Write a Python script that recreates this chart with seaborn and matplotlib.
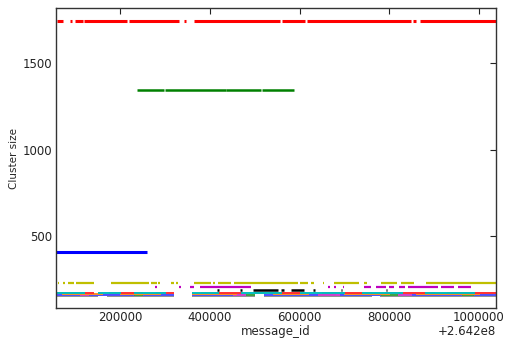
import seaborn as sns
import matplotlib.pyplot as plt
import numpy as np
import pandas as pd

# message_id runs (in thousands, relative to the 2.642e8 offset) for each cluster
OFFSET = 264200000

red_size = 1740
red_runs = [(59, 70), (88, 91), (99, 115), (120, 213), (220, 330), (343, 345),
            (365, 555), (562, 611), (616, 848), (853, 859), (868, 1038)]

green_size = 1345
green_runs = [(238, 296), (301, 435), (437, 513), (517, 587)]

blue_size = 410
blue_runs = [(57, 258)]

yellow_size = 231
yellow_runs = [(61, 63), (73, 75), (84, 95), (102, 140), (180, 262), (269, 280),
               (285, 287), (314, 318), (325, 327), (365, 401), (408, 410),
               (419, 446), (453, 596), (602, 618), (625, 631), (652, 654),
               (676, 732), (743, 748), (781, 815), (826, 853), (882, 1038)]

magenta_size = 203
magenta_runs = [(278, 280), (332, 334), (356, 363), (379, 491), (663, 667),
                (676, 680), (696, 698), (743, 759), (770, 792), (799, 810),
                (821, 833), (842, 908), (915, 942), (953, 982)]

black_size = 190
black_runs = [(417, 419), (468, 471), (497, 551), (558, 564), (580, 609),
              (631, 634), (692, 694), (792, 794)]

# the small clusters piled up at the bottom
cyan_size = 172
cyan_runs = [(57, 120), (150, 200), (230, 300), (361, 420), (470, 560),
             (600, 700), (740, 830), (880, 990)]
red2_size = 168
red2_runs = [(60, 140), (175, 250), (280, 318), (380, 470), (500, 600),
             (650, 760), (790, 900), (930, 1038)]
orange_size = 165
orange_runs = [(70, 160), (200, 290), (361, 460), (540, 620), (700, 800), (860, 1000)]
blue2_size = 162
blue2_runs = [(57, 110), (130, 230), (250, 318), (361, 450), (520, 640),
              (690, 780), (850, 960), (990, 1038)]
magenta2_size = 160
magenta2_runs = [(100, 200), (400, 480), (610, 700), (820, 900)]
green2_size = 158
green2_runs = [(80, 180), (220, 310), (370, 500), (560, 680), (720, 850), (900, 1030)]
gray_size = 155
gray_runs = [(57, 150), (170, 318), (361, 500), (520, 760), (780, 1038)]

clusters = [
    ('gray', gray_size, gray_runs),
    ('green2', green2_size, green2_runs),
    ('magenta2', magenta2_size, magenta2_runs),
    ('blue2', blue2_size, blue2_runs),
    ('orange', orange_size, orange_runs),
    ('red2', red2_size, red2_runs),
    ('cyan', cyan_size, cyan_runs),
    ('blue', blue_size, blue_runs),
    ('green', green_size, green_runs),
    ('red', red_size, red_runs),
    ('yellow', yellow_size, yellow_runs),
    ('magenta', magenta_size, magenta_runs),
    ('black', black_size, black_runs),
]

colors = {'red': '#ff0000', 'green': '#008000', 'blue': '#0000ff',
          'yellow': '#bfbf00', 'magenta': '#bf00bf', 'black': '#000000',
          'cyan': '#00bfbf', 'red2': '#ff3030', 'orange': '#ff9020',
          'blue2': '#5050ff', 'magenta2': '#d040d0', 'green2': '#40a040',
          'gray': '#909090'}
widths = {'red': 2.2, 'green': 1.8, 'blue': 2.2, 'yellow': 1.6, 'magenta': 1.6,
          'black': 1.8}

rows = []
for name, size, runs in clusters:
    for i, (a, b) in enumerate(runs):
        rows.append((name, i, OFFSET + a * 1000, size))
        rows.append((name, i, OFFSET + b * 1000 + 1500, size))
df = pd.DataFrame(rows, columns=['cluster', 'seg', 'message_id', 'size'])

sns.set_style('white')
plt.rcParams['font.family'] = ['DejaVu Sans']

fig = plt.figure(figsize=(5.05, 3.39), dpi=100)
ax = fig.add_axes([0.111, 0.0914, 0.871, 0.885])

for name, size, runs in clusters:
    sub = df[df['cluster'] == name]
    sns.lineplot(data=sub, x='message_id', y='size', units='seg', estimator=None,
                 sort=False, color=colors[name], linewidth=widths.get(name, 1.4),
                 solid_capstyle='butt', ax=ax)

ax.set_xlim(OFFSET + 57000, OFFSET + 1038000)
ax.set_ylim(84, 1818)
ax.set_xticks([OFFSET + v for v in [200000, 400000, 600000, 800000, 1000000]])
ax.set_yticks([500, 1000, 1500])
ax.ticklabel_format(axis='x', style='plain', useOffset=OFFSET)
ax.tick_params(direction='in', top=True, right=True, length=4, width=0.8,
               labelsize=8.5, colors='#222222', pad=3)
ax.tick_params(axis='x', pad=2)
ax.xaxis.get_offset_text().set_visible(False)
ax.text(1.0, -0.058, '+2.642e8', transform=ax.transAxes, ha='right', va='top',
        fontsize=8.5, color='#222222')
for s in ax.spines.values():
    s.set_color('#333333')
    s.set_linewidth(1.0)
ax.set_xlabel('message_id', fontsize=8.5)
ax.xaxis.set_label_coords(0.5, -0.055)
ax.set_ylabel('Cluster size', fontsize=7.5)
ax.yaxis.set_label_coords(-0.085, 0.5)

fig.savefig('out.png', dpi=100)
